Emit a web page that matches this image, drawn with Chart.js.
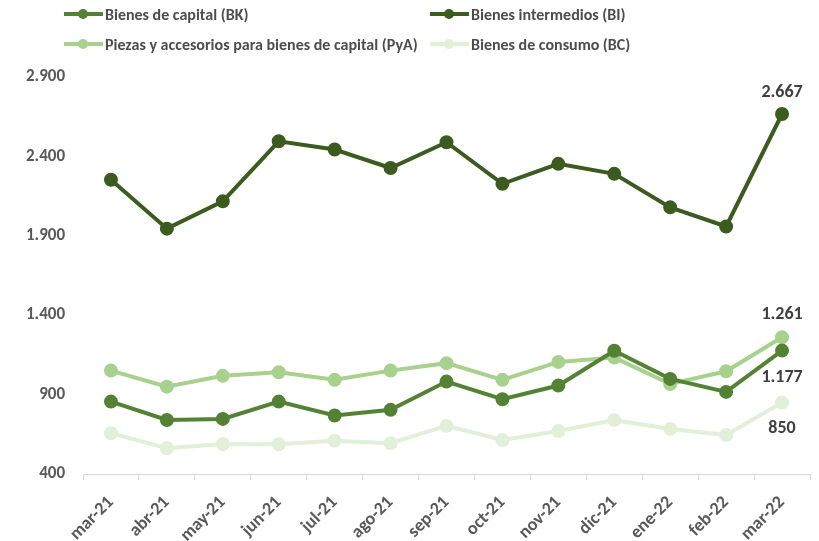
<!DOCTYPE html>
<html>
<head>
<meta charset="utf-8">
<script src="https://cdn.jsdelivr.net/npm/chart.js@4/dist/chart.umd.min.js"></script>
<style>
  body { margin: 0; background: #fff; }
  #wrap { position: relative; width: 819px; height: 541px; }
  #legend { position: absolute; left: 0; top: 0; width: 819px; height: 60px; font-family: Carlito, Lato, sans-serif; }
  .item { position: absolute; height: 20px; display: flex; align-items: center; font-size: 16px; font-weight: bold; color: #4d4d4d; white-space: nowrap; }
  .sw { position: relative; width: 39px; height: 20px; margin-right: 2px; }
  .sw .ln { position: absolute; left: 0; right: 0; top: 8px; height: 4px; }
  .sw .dot { position: absolute; left: 14px; top: 5px; width: 10px; height: 10px; border-radius: 50%; }
</style>
</head>
<body>
<div id="wrap">
  <canvas id="plot" width="819" height="541"></canvas>
  <div id="legend"></div>
</div>
<script>
const months = ['mar-21', 'abr-21', 'may-21', 'jun-21', 'jul-21', 'ago-21', 'sep-21', 'oct-21', 'nov-21', 'dic-21', 'ene-22', 'feb-22', 'mar-22'];
const bienesCapital = [856, 740, 747, 856, 768, 804, 982, 871, 957, 1176, 999, 917, 1177];
const bienesIntermedios = [2253, 1945, 2117, 2495, 2443, 2327, 2489, 2227, 2353, 2290, 2079, 1959, 2667];
const piezasAccesorios = [1051, 950, 1018, 1041, 993, 1051, 1098, 993, 1106, 1133, 967, 1047, 1261];
const bienesConsumo = [657, 562, 589, 587, 610, 594, 703, 614, 671, 740, 684, 646, 850];

const fmt = new Intl.NumberFormat('de-DE');
const font = 'Carlito, Lato, sans-serif';

function makeSeries(label, data, color) {
  return {
    label,
    data,
    borderColor: color,
    backgroundColor: color,
    pointBackgroundColor: color,
    pointBorderColor: color,
    borderWidth: 4,
    pointRadius: 5,
    pointHoverRadius: 5,
    tension: 0,
    fill: false,
  };
}

// label position for the last point: above or below
const endLabels = [
  { dataset: 0, dy: 27 },
  { dataset: 1, dy: -22 },
  { dataset: 2, dy: -23 },
  { dataset: 3, dy: 26 },
];

const endLabelPlugin = {
  id: 'end_labels',
  afterDatasetsDraw: (chart) => {
    const ctx = chart.ctx;
    ctx.save();
    ctx.font = 'bold 18px ' + font;
    ctx.fillStyle = '#404040';
    ctx.textAlign = 'center';
    ctx.textBaseline = 'middle';
    endLabels.forEach(function(l) {
      const ds = chart.data.datasets[l.dataset];
      const pts = chart.getDatasetMeta(l.dataset).data;
      const p = pts[pts.length - 1];
      ctx.fillText(fmt.format(ds.data[ds.data.length - 1]), p.x, p.y + l.dy);
    });
    ctx.restore();
  }
};

const legendPos = [
  { left: 64, top: 4 },
  { left: 430, top: 4 },
  { left: 64, top: 34 },
  { left: 430, top: 34 },
];

const htmlLegendPlugin = {
  id: 'html_legend',
  afterUpdate: (chart) => {
    const box = document.getElementById('legend');
    box.innerHTML = '';
    chart.data.datasets.forEach(function(ds, i) {
      const item = document.createElement('div');
      item.className = 'item';
      item.style.left = legendPos[i].left + 'px';
      item.style.top = legendPos[i].top + 'px';
      item.innerHTML = '<span class="sw"><span class="ln" style="background:' + ds.borderColor +
        '"></span><span class="dot" style="background:' + ds.borderColor + '"></span></span>';
      const txt = document.createElement('span');
      txt.textContent = ds.label;
      item.appendChild(txt);
      box.appendChild(item);
    });
  }
};

const lineChart = {
  type: 'line',
  plugins: [endLabelPlugin, htmlLegendPlugin],
  data: {
    labels: months,
    datasets: [
      makeSeries('Bienes de capital (BK)', bienesCapital, '#548235'),
      makeSeries('Bienes intermedios (BI)', bienesIntermedios, '#3b5b1f'),
      makeSeries('Piezas y accesorios para bienes de capital (PyA)', piezasAccesorios, '#a9d18e'),
      makeSeries('Bienes de consumo (BC)', bienesConsumo, '#e2efd9'),
    ],
  },
  options: {
    responsive: false,
    animation: false,
    devicePixelRatio: 1,
    layout: { padding: { top: 77, right: 0, left: 0, bottom: 0 } },
    plugins: {
      legend: { display: false },
      tooltip: { enabled: false },
    },
    scales: {
      x: {
        offset: true,
        grid: {
          offset: true,
          drawOnChartArea: false,
          drawTicks: true,
          tickLength: 6,
          color: '#d9d9d9',
        },
        border: { display: true, color: '#d9d9d9', width: 1 },
        ticks: {
          minRotation: 45,
          maxRotation: 45,
          padding: 12,
          color: '#595959',
          font: { family: font, size: 18, weight: 'bold' },
        },
        afterFit: (scale) => { scale.height = 67; },
      },
      y: {
        min: 400,
        max: 2900,
        grid: { display: false },
        border: { display: false },
        ticks: {
          stepSize: 500,
          padding: 10,
          color: '#595959',
          font: { family: font, size: 17, weight: 'bold' },
          callback: (v) => fmt.format(v),
        },
        afterFit: (scale) => { scale.width = 83; },
      },
    },
  },
};

const canvas = document.getElementById('plot');
const chart = new Chart(canvas.getContext('2d'), lineChart);
</script>
</body>
</html>
